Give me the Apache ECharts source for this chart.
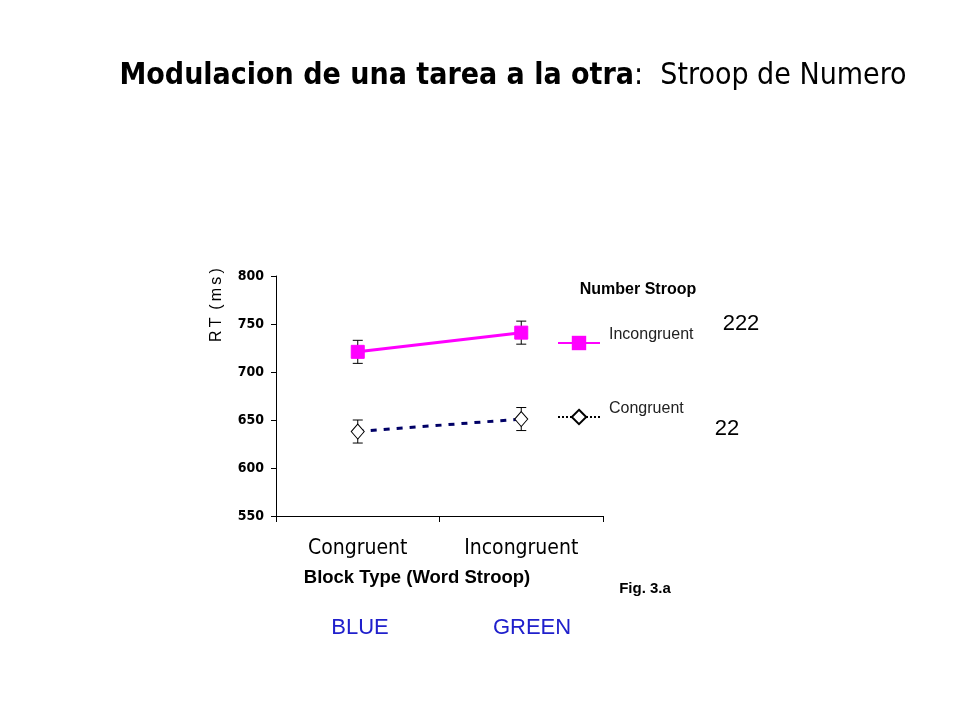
<!DOCTYPE html>
<html>
<head>
<meta charset="utf-8">
<script src="https://cdn.jsdelivr.net/npm/echarts@6/dist/echarts.min.js"></script>
<style>html,body{margin:0;padding:0;background:#fff;}#c{width:960px;height:720px;}</style>
</head>
<body>
<div id="c"></div>
<script>
var categories = ['Congruent', 'Incongruent'];
var incongruentRT = [721, 741];
var incongruentErr = [12, 12];
var congruentRT = [638, 651];
var congruentErr = [12, 12];
var yTicks = {min: 550, max: 800, interval: 50};
var bottomLabels = ['BLUE', 'GREEN'];

var NARROW = '"Liberation Sans Narrow","DejaVu Sans Condensed","Liberation Sans",Arial,sans-serif';
var SANS = '"Liberation Sans",Arial,sans-serif';

function errData(vals, errs) {
  return vals.map(function (v, i) { return [i, v - errs[i], v + errs[i]]; });
}
function errRender(params, api) {
  var x = api.value(0);
  var lo = api.coord([x, api.value(1)]);
  var hi = api.coord([x, api.value(2)]);
  var w = 5;
  var st = {stroke: '#000', lineWidth: 1};
  return {
    type: 'group',
    children: [
      {type: 'line', shape: {x1: hi[0], y1: hi[1], x2: lo[0], y2: lo[1]}, style: st},
      {type: 'line', shape: {x1: hi[0] - w, y1: hi[1], x2: hi[0] + w, y2: hi[1]}, style: st},
      {type: 'line', shape: {x1: lo[0] - w, y1: lo[1], x2: lo[0] + w, y2: lo[1]}, style: st}
    ]
  };
}

var legendText = {
  fontFamily: SANS, fontSize: 16, color: '#222',
  rich: {a: {fontFamily: SANS, fontSize: 16, color: '#222', padding: [0, 0, 16, 4]}}
};

var chart = echarts.init(document.getElementById('c'));
chart.setOption({
  backgroundColor: '#fff',
  animation: false,
  title: [{
    text: '{b|Modulacion de una tarea a la otra}{n|:  Stroop de Numero}',
    left: 508, top: 56, textAlign: 'center',
    textStyle: {
      rich: {
        b: {fontFamily: NARROW, fontWeight: 'bold', fontSize: 30, color: '#000'},
        n: {fontFamily: NARROW, fontWeight: 'normal', fontSize: 30, color: '#000'}
      }
    }
  }, {
    text: 'Number Stroop', left: 633, top: 277, textAlign: 'center',
    textStyle: {fontFamily: SANS, fontWeight: 'bold', fontSize: 16, color: '#000'}
  }],
  grid: {left: 276, right: 357, top: 276, bottom: 204, containLabel: false},
  legend: [{
    left: 552, top: 322, itemWidth: 42, itemHeight: 18, itemGap: 10,
    textStyle: legendText, formatter: '{a|{name}}',
    data: [{name: 'Incongruent'}]
  }, {
    left: 552, top: 396, itemWidth: 42, itemHeight: 18, itemGap: 10,
    textStyle: legendText, formatter: '{a|{name}}',
    data: [{name: 'Congruent', lineStyle: {color: '#000', type: [2, 2], width: 2}}]
  }],
  xAxis: {
    type: 'category', data: categories, boundaryGap: true,
    axisLine: {lineStyle: {color: '#000', width: 1}},
    axisTick: {show: true, length: 6, interval: 0, lineStyle: {color: '#000'}, alignWithLabel: false},
    axisLabel: {fontFamily: NARROW, fontSize: 21, color: '#000', margin: 22, interval: 0},
    splitLine: {show: false}
  },
  yAxis: {
    type: 'value', min: yTicks.min, max: yTicks.max, interval: yTicks.interval,
    axisLine: {show: true, lineStyle: {color: '#000', width: 1}},
    axisTick: {show: true, length: 5, inside: false, lineStyle: {color: '#000'}},
    axisLabel: {fontFamily: NARROW, fontWeight: 'bold', fontSize: 14, color: '#000', margin: 12},
    splitLine: {show: false}
  },
  series: [{
    name: 'Incongruent', type: 'line', data: incongruentRT, z: 5,
    symbol: 'rect', symbolSize: 13,
    lineStyle: {color: '#FF00FF', width: 3},
    itemStyle: {color: '#FF00FF', borderColor: '#FF00FF'}
  }, {
    name: 'Congruent', type: 'line', data: congruentRT, z: 5,
    symbol: 'diamond', symbolSize: [13, 15],
    lineStyle: {color: '#000066', width: 3, type: [6, 7]},
    itemStyle: {color: '#fff', borderColor: '#000', borderWidth: 1}
  }, {
    name: 'errInc', type: 'custom', data: errData(incongruentRT, incongruentErr), z: 3,
    renderItem: errRender, silent: true
  }, {
    name: 'errCon', type: 'custom', data: errData(congruentRT, congruentErr), z: 3,
    renderItem: errRender, silent: true
  }],
  graphic: [
    {type: 'text', x: 217, y: 305, rotation: Math.PI / 2,
     style: {text: 'R\u2009T\u2009 (\u2009m\u2009s\u2009)', font: '16px "Liberation Sans", Arial, sans-serif', fill: '#000', align: 'center', verticalAlign: 'middle'}},
    {type: 'text', x: 417, y: 578,
     style: {text: 'Block Type (Word Stroop)', font: 'bold 18.5px "Liberation Sans", Arial, sans-serif', fill: '#000', align: 'center', verticalAlign: 'middle'}},
    {type: 'text', x: 645, y: 589,
     style: {text: 'Fig. 3.a', font: 'bold 15px "Liberation Sans", Arial, sans-serif', fill: '#000', align: 'center', verticalAlign: 'middle'}},
    {type: 'text', x: 360, y: 628,
     style: {text: bottomLabels[0], font: '22px "Liberation Sans", Arial, sans-serif', fill: '#2020CC', align: 'center', verticalAlign: 'middle'}},
    {type: 'text', x: 532, y: 628,
     style: {text: bottomLabels[1], font: '22px "Liberation Sans", Arial, sans-serif', fill: '#2020CC', align: 'center', verticalAlign: 'middle'}},
    {type: 'text', x: 741, y: 324,
     style: {text: '222', font: '22px "Liberation Sans", Arial, sans-serif', fill: '#000', align: 'center', verticalAlign: 'middle'}},
    {type: 'text', x: 727, y: 429,
     style: {text: '22', font: '22px "Liberation Sans", Arial, sans-serif', fill: '#000', align: 'center', verticalAlign: 'middle'}}
  ]
});
</script>
</body>
</html>
